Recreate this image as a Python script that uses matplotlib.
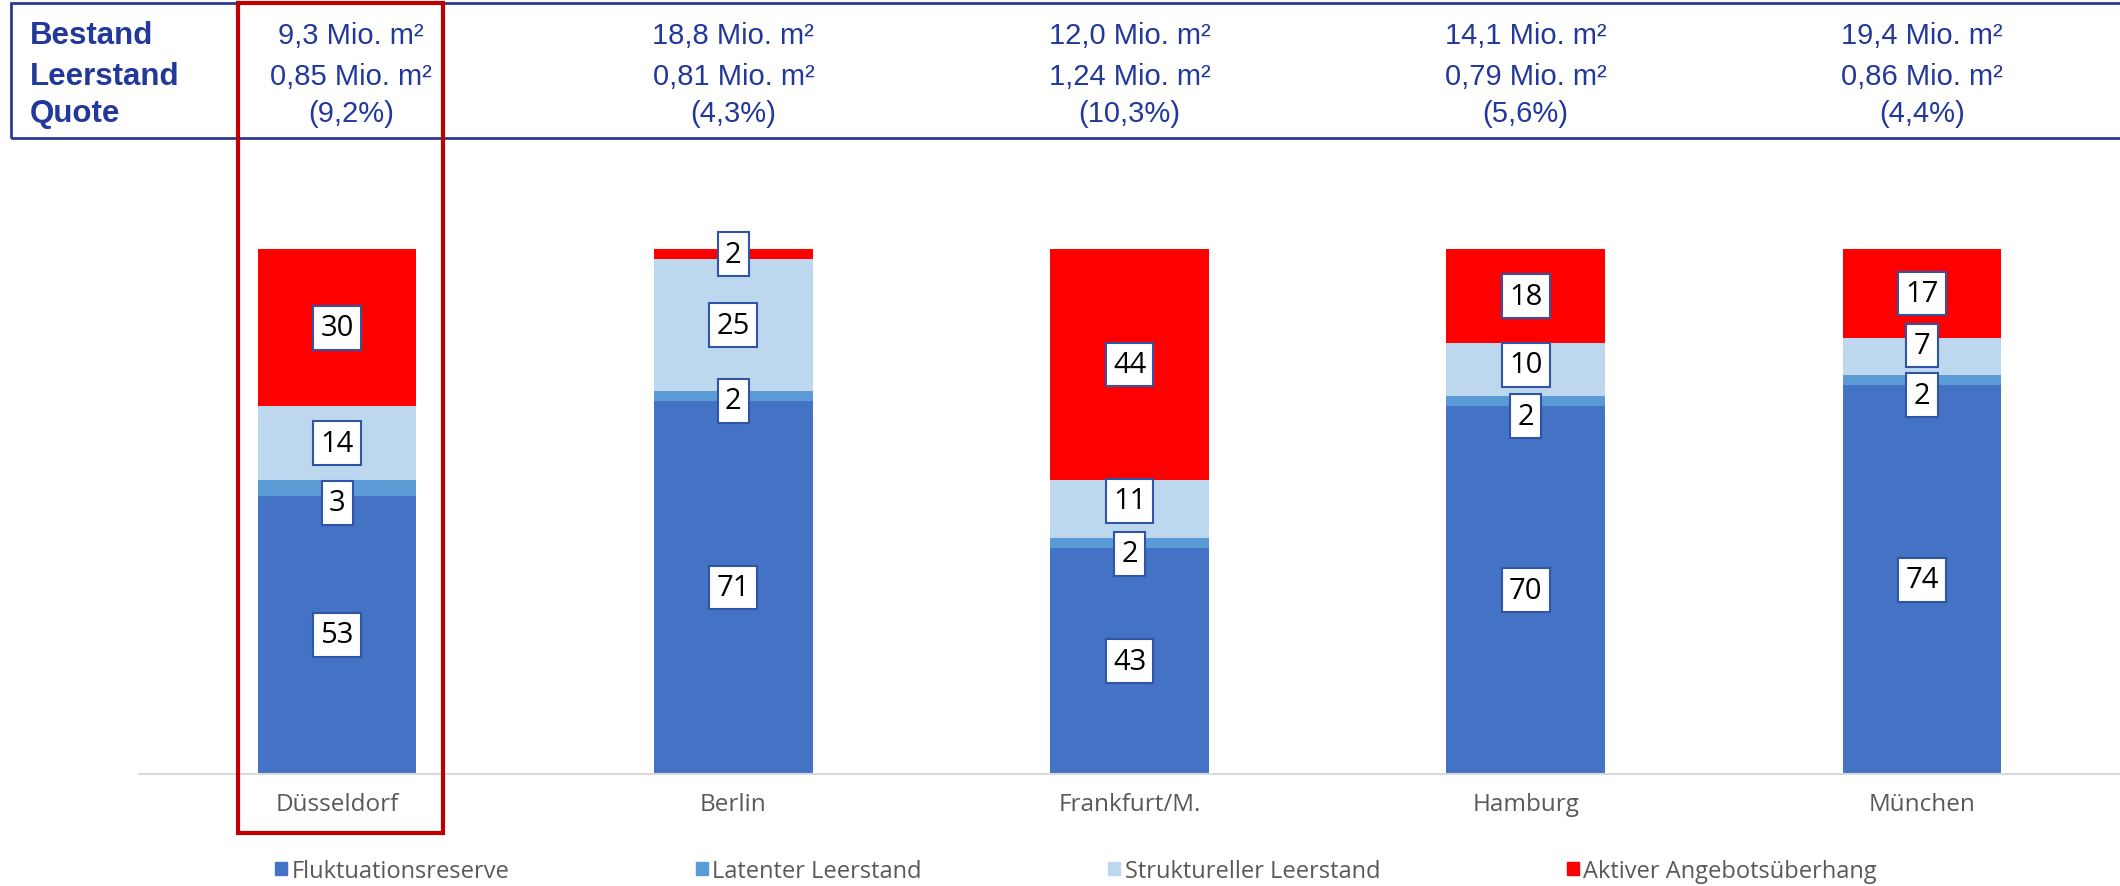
import matplotlib.pyplot as plt
import matplotlib.patches as mpatches
from matplotlib.transforms import blended_transform_factory

# Leerstandsstruktur Büromärkte, Anteile in % vom Leerstand
cities = ['Düsseldorf', 'Berlin', 'Frankfurt/M.', 'Hamburg', 'München']
fluktuation = [53, 71, 43, 70, 74]
latent = [3, 2, 2, 2, 2]
strukturell = [14, 25, 11, 10, 7]
aktiv = [30, 2, 44, 18, 17]

# Kennzahlen für die Kopfzeile
bestand = ['9,3', '18,8', '12,0', '14,1', '19,4']
leerstand = ['0,85', '0,81', '1,24', '0,79', '0,86']
quote = ['9,2', '4,3', '10,3', '5,6', '4,4']

series_names = ['Fluktuationsreserve', 'Latenter Leerstand',
                'Struktureller Leerstand', 'Aktiver Angebotsüberhang']
colors = ['#4472C4', '#5B9BD5', '#BDD7EE', '#FF0000']

# kleine Labels etwas auseinanderschieben (pixel), key = (serie, stadt)
nudge = {(1, 0): -15, (1, 1): -5, (1, 2): -11, (2, 2): 8,
         (1, 3): -15, (2, 3): 5, (1, 4): -15, (2, 4): 11}

navy = '#22389A'
grey = '#595959'

fig = plt.figure(figsize=(21.2, 8.87), dpi=100)
ax = fig.add_axes([0.0656, 0.1263, 0.9344, 0.5919])

x = range(len(cities))
series = [fluktuation, latent, strukturell, aktiv]
bottom = [0] * len(cities)
for s, (vals, name, col) in enumerate(zip(series, series_names, colors)):
    ax.bar(x, vals, bottom=bottom, width=0.4, color=col, label=name)
    for i, v in enumerate(vals):
        ax.annotate(str(v), (i, bottom[i] + v / 2),
                    xytext=(0, nudge.get((s, i), 0)), textcoords='offset pixels',
                    ha='center', va='center', fontsize=21, family='Open Sans',
                    color='black', annotation_clip=False,
                    bbox=dict(boxstyle='square,pad=0.25', fc='white',
                              ec='#2F55A4', lw=1.5))
    bottom = [b + v for b, v in zip(bottom, vals)]

ax.set_xlim(-0.5, len(cities) - 0.5)
ax.set_ylim(0, 100)
ax.set_yticks([])
ax.set_xticks(list(x))
ax.set_xticklabels(cities, fontsize=17.5, family='Open Sans', color=grey)
ax.tick_params(axis='x', length=0, pad=13)
for side in ['top', 'right', 'left']:
    ax.spines[side].set_visible(False)
ax.spines['bottom'].set_color('#D9D9D9')
ax.spines['bottom'].set_linewidth(1.5)

# Kopfzeile mit Bestand / Leerstand / Quote
fig.patches.append(mpatches.Rectangle((0.0052, 0.8433), 1.0, 0.1522,
                                      transform=fig.transFigure, fill=False,
                                      ec='#2B3990', lw=2))
rows_y = [0.959, 0.913, 0.871]
for y, t in zip(rows_y, ['Bestand', 'Leerstand', 'Quote']):
    fig.text(0.0142, y, t, fontsize=22.5, fontweight='bold',
             family='Liberation Sans', color=navy, va='center')

trans = blended_transform_factory(ax.transData, fig.transFigure)
for i in x:
    xs = i + (0.035 if i == 0 else 0)
    lines = [bestand[i] + ' Mio. m²', leerstand[i] + ' Mio. m²', '(' + quote[i] + '%)']
    for y, t in zip(rows_y, lines):
        ax.text(xs, y, t, transform=trans, fontsize=21, family='Liberation Sans',
                color=navy, ha='center', va='center')

# roter Rahmen um Düsseldorf
fig.patches.append(mpatches.Rectangle((238 / 2120, 1 - 834 / 887), 205 / 2120, 830 / 887,
                                      transform=fig.transFigure, fill=False,
                                      ec='#C00000', lw=3))

handles = [mpatches.Patch(color=c) for c in colors]
leg = fig.legend(handles, series_names, loc='center', bbox_to_anchor=(0.5075, 0.017),
                 ncol=4, frameon=False, handlelength=0.5, handleheight=0.5,
                 handletextpad=0.2, columnspacing=7.9,
                 prop={'family': 'Open Sans', 'size': 17})
for t in leg.get_texts():
    t.set_color(grey)

plt.savefig('out.png', dpi=100)
